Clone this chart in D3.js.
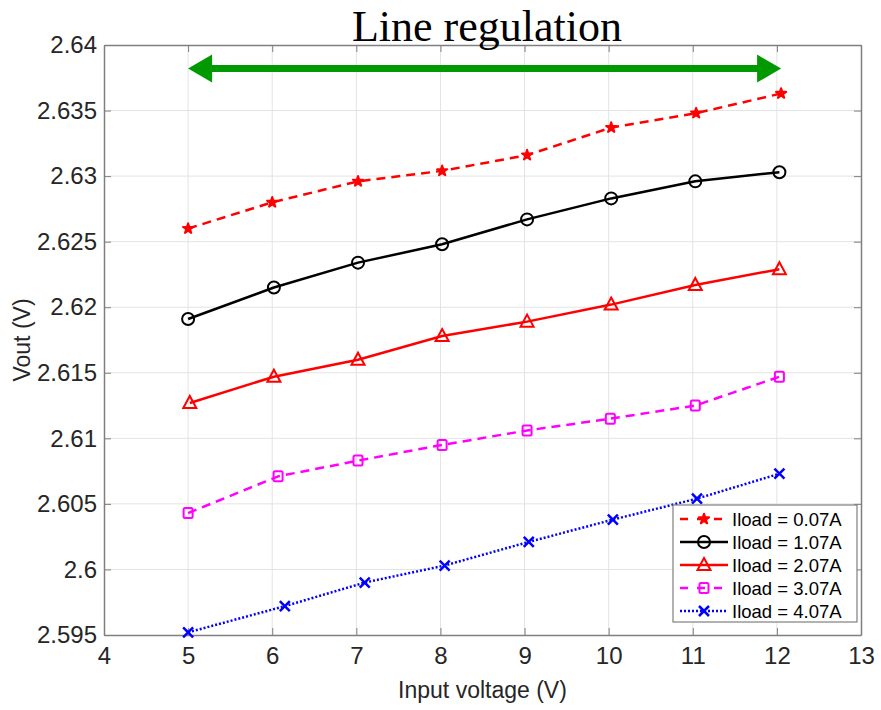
<!DOCTYPE html>
<html>
<head>
<meta charset="utf-8">
<script src="https://cdn.jsdelivr.net/npm/d3@7"></script>
<style>
  body { margin: 0; background: #fff; }
  svg { display: block; }
</style>
</head>
<body>
<svg id="chart" width="881" height="710"></svg>
<script>
// data
const seriesNames = ["Iload = 0.07A", "Iload = 1.07A", "Iload = 2.07A", "Iload = 3.07A", "Iload = 4.07A"];
const xStar = [5, 6, 7.02, 8.02, 9.03, 10.03, 11.04, 12.05];
const yStar = [2.626, 2.628, 2.6296, 2.6304, 2.6316, 2.6337, 2.6348, 2.6363];
const xCircle = [5, 6.02, 7.02, 8.02, 9.03, 10.03, 11.03, 12.03];
const yCircle = [2.6191, 2.6215, 2.6234, 2.6248, 2.6267, 2.6283, 2.6296, 2.6303];
const xTri = [5.02, 6.02, 7.02, 8.02, 9.03, 10.03, 11.03, 12.03];
const yTri = [2.6127, 2.6147, 2.616, 2.6178, 2.6189, 2.6202, 2.6217, 2.6229];
const xSquare = [5, 6.07, 7.02, 8.02, 9.03, 10.02, 11.03, 12.03];
const ySquare = [2.6043, 2.6071, 2.6083, 2.6095, 2.6106, 2.6115, 2.6125, 2.6147];
const xCross = [5, 6.15, 7.1, 8.05, 9.05, 10.05, 11.05, 12.03];
const yCross = [2.5952, 2.5972, 2.599, 2.6003, 2.6021, 2.6038, 2.6054, 2.6073];
const xTicks = [4, 5, 6, 7, 8, 9, 10, 11, 12, 13];
const yTicks = [2.595, 2.6, 2.605, 2.61, 2.615, 2.62, 2.625, 2.63, 2.635, 2.64];
const arrowSpan = [5, 12.05];
const arrowLevel = 2.6382;

const fontFamily = "Liberation Sans, Arial, Helvetica, sans-serif";
const axisColor = "#262626";

const margin = { top: 45, right: 20, bottom: 75, left: 104 };
const width = 881, height = 710;
const svg = d3.select("#chart");

const x = d3.scaleLinear().domain([4, 13]).range([margin.left, width - margin.right]);
const y = d3.scaleLinear().domain([2.595, 2.64]).range([height - margin.bottom, margin.top]);

// grid
const grid = svg.append("g").attr("stroke", "#e3e3e3").attr("stroke-width", 1);
grid.selectAll(".vx").data(xTicks.slice(1, -1)).join("line")
  .attr("x1", d => x(d)).attr("x2", d => x(d))
  .attr("y1", y.range()[1]).attr("y2", y.range()[0]);
grid.selectAll(".hy").data(yTicks.slice(1, -1)).join("line")
  .attr("y1", d => y(d)).attr("y2", d => y(d))
  .attr("x1", x.range()[0]).attr("x2", x.range()[1]);

// axes (box with inward ticks)
const fmtY = d => d3.format("")(+d.toFixed(3));
const axB = svg.append("g").attr("transform", `translate(0,${y.range()[0]})`)
  .call(d3.axisBottom(x).tickValues(xTicks).tickSizeInner(-7).tickSizeOuter(0).tickPadding(12));
const axT = svg.append("g").attr("transform", `translate(0,${y.range()[1]})`)
  .call(d3.axisTop(x).tickValues(xTicks).tickSizeInner(-7).tickSizeOuter(0).tickFormat(""));
const axL = svg.append("g").attr("transform", `translate(${x.range()[0]},0)`)
  .call(d3.axisLeft(y).tickValues(yTicks).tickSizeInner(-7).tickSizeOuter(0).tickPadding(7).tickFormat(fmtY));
const axR = svg.append("g").attr("transform", `translate(${x.range()[1]},0)`)
  .call(d3.axisRight(y).tickValues(yTicks).tickSizeInner(-7).tickSizeOuter(0).tickFormat(""));
[axB, axT, axL, axR].forEach(a => {
  a.select(".domain").attr("stroke", "#7f7f7f").attr("stroke-width", 1.5);
  a.selectAll(".tick line").attr("stroke", "#7f7f7f").attr("stroke-width", 1);
  a.selectAll("text").attr("fill", axisColor).style("font-family", fontFamily).style("font-size", "24px");
});

// axis labels
svg.append("text").attr("x", (x.range()[0] + x.range()[1]) / 2).attr("y", 698)
  .attr("text-anchor", "middle").style("font-family", fontFamily).style("font-size", "23px")
  .attr("fill", axisColor).text("Input voltage (V)");
svg.append("text").attr("transform", `translate(30,${(y.range()[0] + y.range()[1]) / 2}) rotate(-90)`)
  .attr("text-anchor", "middle").style("font-family", fontFamily).style("font-size", "23px")
  .attr("fill", axisColor).text("Vout (V)");

// title
svg.append("text").attr("x", 487).attr("y", 41).attr("text-anchor", "middle")
  .style("font-family", "Liberation Serif, Times New Roman, serif").style("font-size", "44px")
  .attr("fill", "#000").text("Line regulation");

// green double arrow
const ax0 = x(arrowSpan[0]), ax1 = x(arrowSpan[1]), ay = y(arrowLevel);
const green = "#009900";
svg.append("line").attr("x1", ax0 + 15).attr("x2", ax1 - 15).attr("y1", ay).attr("y2", ay)
  .attr("stroke", green).attr("stroke-width", 7);
svg.append("path").attr("fill", green)
  .attr("d", `M${ax0},${ay} L${ax0 + 24},${ay - 14} L${ax0 + 24},${ay + 14} Z`);
svg.append("path").attr("fill", green)
  .attr("d", `M${ax1},${ay} L${ax1 - 24},${ay - 14} L${ax1 - 24},${ay + 14} Z`);

// series
const series = [
  { name: seriesNames[0], xs: xStar, ys: yStar, color: "#ff0000", dash: "9,6", marker: "star" },
  { name: seriesNames[1], xs: xCircle, ys: yCircle, color: "#000000", dash: null, marker: "circle" },
  { name: seriesNames[2], xs: xTri, ys: yTri, color: "#ff0000", dash: null, marker: "triangle" },
  { name: seriesNames[3], xs: xSquare, ys: ySquare, color: "#ff00ff", dash: "9,6", marker: "square" },
  { name: seriesNames[4], xs: xCross, ys: yCross, color: "#0000ff", dash: "2,2", marker: "cross" }
];

function drawMarker(g, type, cx, cy, color) {
  if (type === "circle") {
    g.append("circle").attr("cx", cx).attr("cy", cy).attr("r", 6)
      .attr("fill", "none").attr("stroke", color).attr("stroke-width", 2);
  } else if (type === "triangle") {
    g.append("path").attr("d", `M${cx},${cy - 7} L${cx + 6.5},${cy + 5} L${cx - 6.5},${cy + 5} Z`)
      .attr("fill", "none").attr("stroke", color).attr("stroke-width", 2);
  } else if (type === "square") {
    g.append("rect").attr("x", cx - 4.5).attr("y", cy - 5).attr("width", 9).attr("height", 10)
      .attr("rx", 1.5).attr("fill", "none").attr("stroke", color).attr("stroke-width", 2);
  } else if (type === "star") {
    g.append("path").attr("transform", `translate(${cx},${cy})`)
      .attr("d", d3.symbol(d3.symbolStar, 32)())
      .attr("fill", color).attr("stroke", color).attr("stroke-width", 2)
      .attr("stroke-linejoin", "round");
  } else if (type === "cross") {
    const s = 5;
    g.append("path").attr("d", `M${cx - s},${cy - s} L${cx + s},${cy + s} M${cx - s},${cy + s} L${cx + s},${cy - s}`)
      .attr("stroke", color).attr("stroke-width", 2.5);
  }
}

const line = d3.line().x(d => x(d[0])).y(d => y(d[1]));
series.forEach(s => {
  const pts = s.xs.map((v, i) => [v, s.ys[i]]);
  const g = svg.append("g");
  g.append("path").datum(pts).attr("d", line).attr("fill", "none")
    .attr("stroke", s.color).attr("stroke-width", 2.5)
    .attr("stroke-dasharray", s.dash);
  pts.forEach(p => drawMarker(g, s.marker, x(p[0]), y(p[1]), s.color));
});

// legend
const lg = svg.append("g").attr("transform", "translate(673,505)");
lg.append("rect").attr("width", 184).attr("height", 117)
  .attr("fill", "#fff").attr("stroke", "#7f7f7f").attr("stroke-width", 1.2);
series.forEach((s, i) => {
  const ly = 14 + i * 23;
  lg.append("line").attr("x1", 7).attr("x2", 55).attr("y1", ly).attr("y2", ly)
    .attr("stroke", s.color).attr("stroke-width", 2.5)
    .attr("stroke-dasharray", s.dash ? (s.dash === "2,2" ? "2,2" : "8,9") : null);
  drawMarker(lg, s.marker, 31, ly, s.color);
  lg.append("text").attr("x", 59).attr("y", ly).attr("dy", "0.36em")
    .style("font-family", fontFamily).style("font-size", "18.5px")
    .attr("fill", "#000").text(s.name);
});
</script>
</body>
</html>
